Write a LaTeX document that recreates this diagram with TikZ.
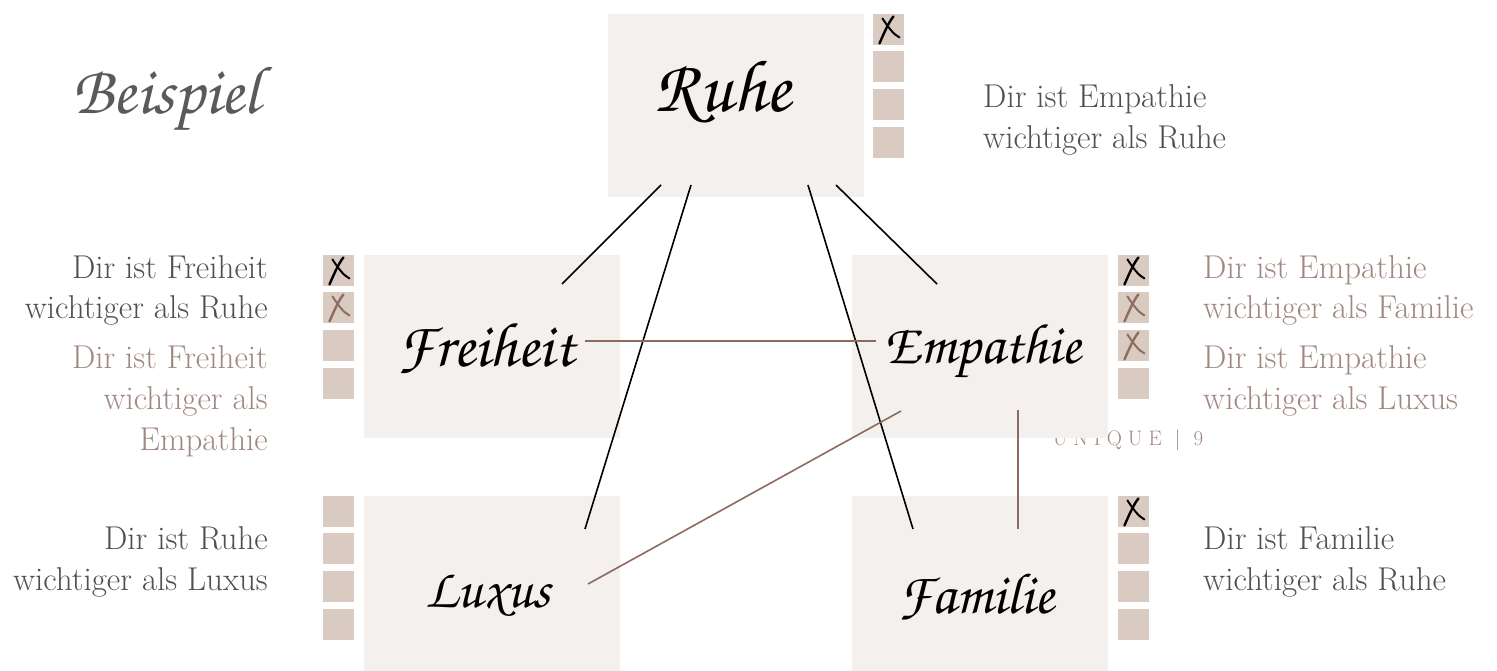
\documentclass[tikz,border=0pt]{standalone}
\usetikzlibrary{calc}
\definecolor{boxfill}{HTML}{F3F0ED}
\definecolor{cbfill}{HTML}{D9CBC1}
\definecolor{txtgray}{HTML}{505050}
\definecolor{txtbrown}{HTML}{A08880}
\definecolor{linebrown}{HTML}{8C6A5E}
\definecolor{xbrown}{HTML}{8F6C60}
\definecolor{scriptgray}{HTML}{5A5A5A}
\newcommand{\myhandfont}{\fontencoding{T1}\fontfamily{pzc}\fontseries{mb}\fontshape{it}\selectfont}
\begin{document}
\begin{tikzpicture}[x=1pt,y=-1pt,
  bigbox/.style={fill=boxfill, draw=none, minimum width=256pt, minimum height=183pt, anchor=north west, inner sep=0pt},
  cb/.style={fill=cbfill, draw=none, minimum size=30.5pt, anchor=north west, inner sep=0pt},
  gtxt/.style={text=txtgray, font=\fontsize{33}{40}\selectfont, inner sep=0pt},
  btxt/.style={gtxt, text=txtbrown},
  lbl/.style={text=black, inner sep=0pt},
  blackline/.style={line width=1.6pt, black},
  brownline/.style={line width=1.6pt, linebrown},
  pics/xm/.style={code={
    \draw[line width=2.4pt, line cap=round] (-9,14) .. controls (-5,5) and (0,-7) .. (5,-13);
    \draw[line width=2.0pt, line cap=round] (-6,-11) .. controls (0,-2) and (5,5) .. (11,8);
  }}
]
\useasboundingbox (0,0) rectangle (1497,670);

% footer text (behind boxes)
\node[text=txtbrown, font=\fontsize{21}{24}\selectfont, inner sep=0pt] (footer) at (1128,440)
  {U\kern6pt N\kern6pt I\kern6pt Q\kern6pt U\kern6pt E\kern13pt |\kern13pt 9};

% main boxes
\node[bigbox] (ruhe) at (608,14) {};
\node[bigbox] (freiheit) at (364,255) {};
\node[bigbox] (empathie) at (852,255) {};
\node[bigbox, minimum height=175pt] (luxus) at (364,496) {};
\node[bigbox, minimum height=175pt] (familie) at (852,496) {};

% checkbox columns
\foreach \i/\y in {1/14,2/51,3/89,4/127} {\node[cb] (rc\i) at (873,\y) {};}
\foreach \i/\y in {1/255,2/292,3/330,4/368} {\node[cb] (fc\i) at (323,\y) {};}
\foreach \i/\y in {1/255,2/292,3/330,4/368} {\node[cb] (ec\i) at (1118,\y) {};}
\foreach \i/\y in {1/496,2/533,3/571,4/609} {\node[cb] (lc\i) at (323,\y) {};}
\foreach \i/\y in {1/496,2/533,3/571,4/609} {\node[cb] (mc\i) at (1118,\y) {};}

% crosses
\pic[black] at (rc1.center) {xm};
\pic[black] at (fc1.center) {xm};
\pic[xbrown] at (fc2.center) {xm};
\pic[black] at (ec1.center) {xm};
\pic[xbrown] at (ec2.center) {xm};
\pic[xbrown] at (ec3.center) {xm};
\pic[black] at (mc1.center) {xm};

% labels
\node[lbl, font=\myhandfont\fontsize{74}{80}\selectfont] (lruhe) at (723,92) {Ruhe};
\node[lbl, font=\myhandfont\fontsize{63}{70}\selectfont] (lfreiheit) at (486,348) {Freiheit};
\node[lbl, font=\myhandfont\fontsize{57}{64}\selectfont] (lempathie) at (983,352) {Empathie};
\node[lbl, font=\myhandfont\fontsize{56}{64}\selectfont] (lluxus) at (488,596) {Luxus};
\node[lbl, font=\myhandfont\fontsize{58}{64}\selectfont] (lfamilie) at (976,597) {Familie};
\node[lbl, font=\myhandfont\fontsize{68}{74}\selectfont, text=scriptgray] (beispiel) at (166,100) {Beispiel};

% connector end points
\coordinate (r1) at (661,185);
\coordinate (r2) at (691,185);
\coordinate (r3) at (808,185);
\coordinate (r4) at (836,185);
\coordinate (f1) at (562,284);
\coordinate (f2) at (585,341);
\coordinate (e1) at (937,284);
\coordinate (e2) at (876,341);
\coordinate (e3) at (901,411);
\coordinate (e4) at (1018,410);
\coordinate (l1) at (585,529);
\coordinate (l2) at (588,584);
\coordinate (m1) at (913,529);
\coordinate (m2) at (1018,529);

\draw[blackline] (r1) -- (f1);
\draw[blackline] (r2) -- (l1);
\draw[blackline] (r3) -- (m1);
\draw[blackline] (r4) -- (e1);
\draw[brownline] (f2) -- (e2);
\draw[brownline] (e3) -- (l2);
\draw[brownline] (e4) -- (m2);

% texts
\node[gtxt, anchor=base west] (t1a) at (983,107) {Dir ist Empathie};
\node[gtxt, anchor=base west] (t1b) at (983,148) {wichtiger als Ruhe};

\node[gtxt, anchor=base east] (t2a) at (268,278) {Dir ist Freiheit};
\node[gtxt, anchor=base east] (t2b) at (268,318) {wichtiger als Ruhe};
\node[btxt, anchor=base east] (t3a) at (268,368) {Dir ist Freiheit};
\node[btxt, anchor=base east] (t3b) at (268,409) {wichtiger als};
\node[btxt, anchor=base east] (t3c) at (268,450) {Empathie};

\node[btxt, anchor=base west] (t4a) at (1203,278) {Dir ist Empathie};
\node[btxt, anchor=base west] (t4b) at (1203,318) {wichtiger als Familie};
\node[btxt, anchor=base west] (t5a) at (1203,368) {Dir ist Empathie};
\node[btxt, anchor=base west] (t5b) at (1203,409) {wichtiger als Luxus};

\node[gtxt, anchor=base east] (t6a) at (268,549) {Dir ist Ruhe};
\node[gtxt, anchor=base east] (t6b) at (268,590) {wichtiger als Luxus};

\node[gtxt, anchor=base west] (t7a) at (1203,549) {Dir ist Familie};
\node[gtxt, anchor=base west] (t7b) at (1203,590) {wichtiger als Ruhe};
\end{tikzpicture}
\end{document}
